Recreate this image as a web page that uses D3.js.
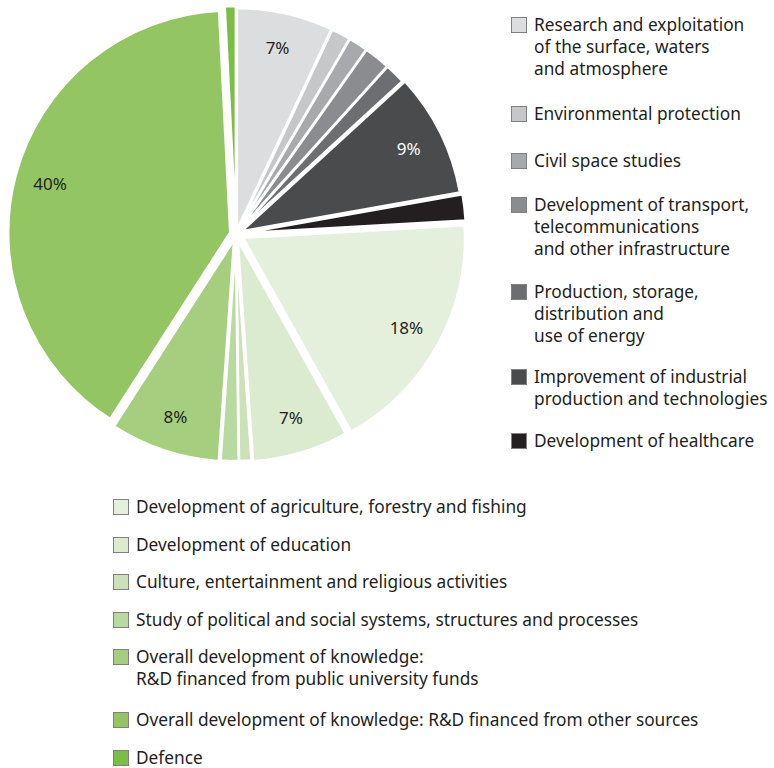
<!DOCTYPE html>
<html lang="en">
<head>
    <title>R&amp;D by objective</title>
    <script src="https://d3js.org/d3.v7.min.js"></script>
    <style>
        body { margin: 0; background: #fff; }
        text { font-family: "Noto Sans", "Open Sans", sans-serif; fill: #231f20; }
    </style>
</head>
<body>

<script>
    // data, clockwise from 12 o'clock
    const categories = [
        "Research and exploitation|of the surface, waters|and atmosphere",
        "Environmental protection",
        "Civil space studies",
        "Development of transport,|telecommunications|and other infrastructure",
        "Production, storage,|distribution and|use of energy",
        "Improvement of industrial|production and technologies",
        "Development of healthcare",
        "Development of agriculture, forestry and fishing",
        "Development of education",
        "Culture, entertainment and religious activities",
        "Study of political and social systems, structures and processes",
        "Overall development of knowledge:|R&D financed from public university funds",
        "Overall development of knowledge: R&D financed from other sources",
        "Defence"
    ];
    const shares = [7.0, 1.4, 1.4, 1.9, 1.5, 9.0, 1.9, 17.8, 7.0, 0.9, 1.3, 8.0, 40.1, 0.8];
    const pctLabels = ["7%", "", "", "", "", "9%", "", "18%", "7%", "", "", "8%", "40%", ""];

    const colors = ["#dcdddf", "#c6c7c9", "#a7a9ac", "#8b8c8f", "#6d6e71", "#4a4b4d", "#231f20",
                    "#e4f0db", "#dbebcf", "#cbe2b9", "#b8d9a0", "#a5ce7e", "#93c663", "#7bbe44"];
    const explode = [4, 4, 4, 4, 4, 6, 8, 8, 6, 5, 5, 6, 6, 6];

    const width = 774, height = 768;
    const cx = 236, cy = 234, r = 222;

    const svg = d3.select("body").append("svg")
            .attr("width", width).attr("height", height);

    const data = categories.map((c, i) => ({name: c, value: shares[i], i: i}));

    const pie = d3.pie().sort(null).value(d => d.value);
    const arc = d3.arc().innerRadius(0).outerRadius(r);
    const labelArc = d3.arc().innerRadius(r * 0.84).outerRadius(r * 0.84);

    const arcs = pie(data);

    const g = svg.append("g").attr("transform", `translate(${cx},${cy})`);

    const slice = g.selectAll("g.slice")
            .data(arcs).enter()
            .append("g")
            .attr("class", "slice")
            .attr("transform", d => {
                const a = (d.startAngle + d.endAngle) / 2;
                const o = explode[d.data.i];
                return `translate(${Math.sin(a) * o},${-Math.cos(a) * o})`;
            });

    slice.append("path")
            .attr("d", arc)
            .attr("fill", d => colors[d.data.i])
            .attr("stroke", "#fff")
            .attr("stroke-width", 2.5)
            .attr("stroke-linejoin", "round");

    slice.append("text")
            .attr("transform", d => `translate(${labelArc.centroid(d)})`)
            .attr("text-anchor", "middle")
            .attr("dy", "0.35em")
            .style("font-size", "17px")
            .style("fill", d => d.data.i === 5 ? "#fff" : "#231f20")
            .text(d => pctLabels[d.data.i]);

    // legends
    const lineH = 22;
    const rightItems = [0, 1, 2, 3, 4, 5, 6];
    const rightY = [25, 114, 161, 205, 292, 377, 441];
    const bottomItems = [7, 8, 9, 10, 11, 12, 13];
    const bottomY = [507, 545, 582, 620, 657, 720, 758];

    function legend(items, ys, x0) {
        const lg = svg.append("g");
        items.forEach((k, j) => {
            const row = lg.append("g").attr("transform", `translate(${x0},${ys[j]})`);
            row.append("rect")
                    .attr("x", 0.5).attr("y", -7.5)
                    .attr("width", 15).attr("height", 15)
                    .attr("fill", colors[k])
                    .attr("stroke", "#808080")
                    .attr("stroke-width", 1);
            row.selectAll("text")
                    .data(categories[k].split("|")).enter()
                    .append("text")
                    .attr("x", 23)
                    .attr("y", (d, n) => n * lineH)
                    .attr("dy", "0.35em")
                    .style("font-size", "17.3px")
                    .text(d => d);
        });
    }
    legend(rightItems, rightY, 511);
    legend(bottomItems, bottomY, 113);
</script>

</body>
</html>
